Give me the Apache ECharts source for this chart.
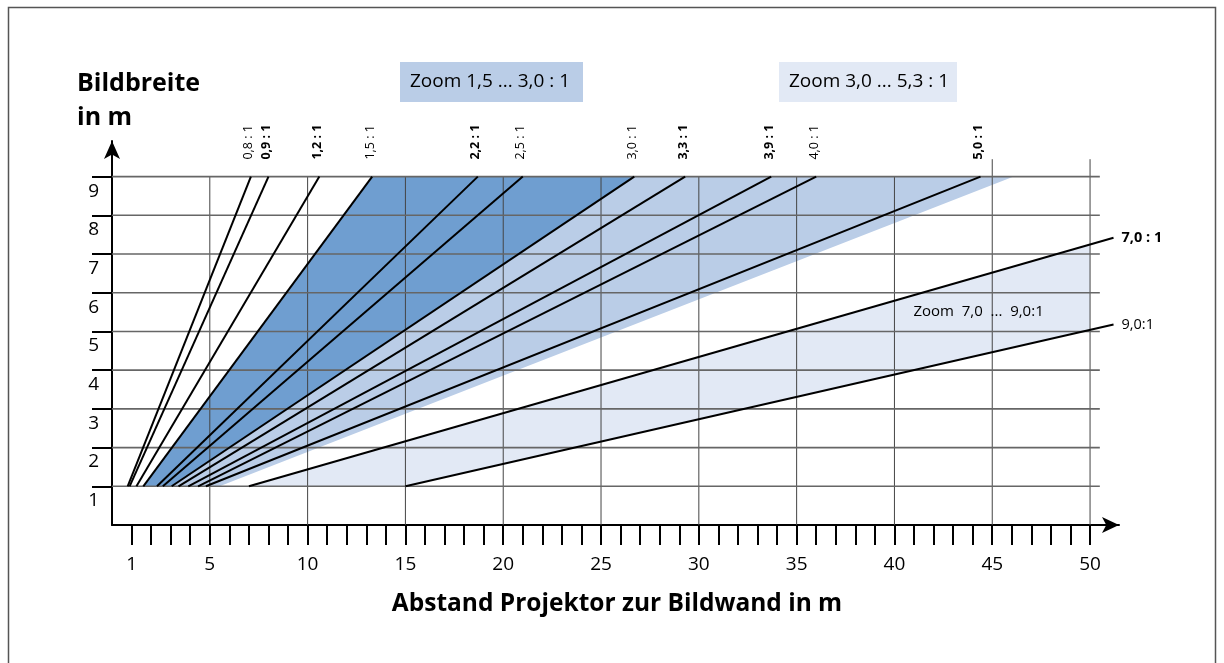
<!DOCTYPE html>
<html><head><meta charset="utf-8">
<script src="https://cdn.jsdelivr.net/npm/echarts@6/dist/echarts.min.js"></script>
<style>html,body{margin:0;padding:0;background:#fff}#c{width:1224px;height:663px}</style>
</head><body><div id="c"></div>
<script>
// ---- data ----
const ratioLabels = ['0,8 : 1','0,9 : 1','1,2 : 1','1,5 : 1','2,2 : 1','2,5 : 1','3,0 : 1','3,3 : 1','3,9 : 1','4,0 : 1','5,0 : 1'];
const ratioBold   = [false, true, true, false, true, false, false, true, true, false, true];
const startDist   = [0.8, 0.9, 1.25, 1.6, 2.3, 2.6, 3.05, 3.4, 3.9, 4.4, 4.8];      // distance (m) at 1 m width
const topDist     = [7.1, 8.0, 10.6, 13.3, 18.7, 21.0, 26.7, 29.3, 33.7, 36.0, 44.4]; // distance (m) at 9 m width
const startWidth  = 1;
const topWidth    = 9;
const tele7 = [[7, 1], [51.2, 7.42]];
const tele9 = [[15, 1], [51.2, 5.18]];
const zoneA = [[1.6, 1], [13.3, 9], [26.7, 9], [3.05, 1]];     // Zoom 1,5 ... 3,0 : 1
const zoneB = [[3.05, 1], [26.7, 9], [46.1, 9], [5.5, 1]];     // Zoom 3,0 ... 5,3 : 1
const zoneC = [[7, 1], [50, 7.26], [50, 5.05], [15, 1]];       // Zoom 7,0 ... 9,0 : 1
const xTickValues  = [1,2,3,4,5,6,7,8,9,10,11,12,13,14,15,16,17,18,19,20,21,22,23,24,25,26,27,28,29,30,31,32,33,34,35,36,37,38,39,40,41,42,43,44,45,46,47,48,49,50];
const xLabelValues = [1,5,10,15,20,25,30,35,40,45,50];
const yTickValues  = [1,2,3,4,5,6,7,8,9];

const FONT = '"Open Sans", "Noto Sans", sans-serif';
const C_DARK = '#6f9ed0', C_MID = '#bacde7', C_LIGHT = '#e2e9f5';

const chart = echarts.init(document.getElementById('c'));

function polySeries(points, color) {
  return {
    type: 'custom', coordinateSystem: 'cartesian2d', silent: true, clip: false, z: 1,
    data: [[points[0][0], points[0][1]]],
    renderItem: (p, api) => ({
      type: 'polygon',
      shape: { points: points.map(pt => api.coord(pt)) },
      style: { fill: color }
    })
  };
}

const vGrid = xLabelValues.filter(v => v >= 5).map(v => [v, 0, v, v >= 45 ? 9.45 : topWidth, 0]);
const hGrid = yTickValues.map(v => [0, v, 50.5, v, 1]);

const series = [
  polySeries(zoneA, C_DARK),
  polySeries(zoneB, C_MID),
  polySeries(zoneC, C_LIGHT),
  {
    type: 'custom', coordinateSystem: 'cartesian2d', silent: true, clip: false, z: 2,
    data: vGrid.concat(hGrid),
    renderItem: (p, api) => {
      const a = api.coord([api.value(0), api.value(1)]);
      const b = api.coord([api.value(2), api.value(3)]);
      const horiz = api.value(4) === 1;
      return {
        type: 'line',
        shape: { x1: a[0], y1: a[1], x2: b[0], y2: b[1] },
        style: { stroke: horiz ? '#666' : '#444', lineWidth: horiz ? 1.6 : 1 }
      };
    }
  }
];

ratioLabels.forEach((lab, i) => {
  series.push({
    type: 'line', silent: true, z: 5, symbol: 'none', clip: false,
    data: [[startDist[i], startWidth], [topDist[i], topWidth]],
    lineStyle: { color: '#000', width: 2 }
  });
});

series.push({
  type: 'line', silent: true, z: 5, symbol: 'none', clip: false, data: tele7,
  lineStyle: { color: '#000', width: 2 },
  endLabel: { show: true, formatter: '7,0 : 1', fontFamily: FONT, fontSize: 14.5, fontWeight: 'bold', color: '#000', distance: 8 }
});
series.push({
  type: 'line', silent: true, z: 5, symbol: 'none', clip: false, data: tele9,
  lineStyle: { color: '#000', width: 2 },
  endLabel: { show: true, formatter: '9,0:1', fontFamily: FONT, fontSize: 14.5, color: '#000', distance: 8 }
});

// rotated ratio labels above the line ends
series.push({
  type: 'custom', coordinateSystem: 'cartesian2d', silent: true, clip: false, z: 6,
  data: topDist.map((d, i) => [d, topWidth, i]),
  renderItem: (p, api) => {
    const i = api.value(2);
    const c = api.coord([api.value(0), api.value(1)]);
    return {
      type: 'text', x: c[0] - 2, y: c[1] - 17, rotation: Math.PI / 2,
      style: {
        text: ratioLabels[i], fill: '#000', align: 'left', verticalAlign: 'middle',
        font: (ratioBold[i] ? 'bold ' : '') + '12.5px ' + FONT
      }
    };
  }
});

// zone label inside the tele zone
series.push({
  type: 'custom', coordinateSystem: 'cartesian2d', silent: true, clip: false, z: 6,
  data: [[44.3, 5.52]],
  renderItem: (p, api) => {
    const c = api.coord([api.value(0), api.value(1)]);
    return { type: 'text', x: c[0], y: c[1],
      style: { text: 'Zoom  7,0  ...  9,0:1', fill: '#000', align: 'center', verticalAlign: 'middle', font: '15px ' + FONT } };
  }
});

const option = {
  animation: false,
  backgroundColor: '#fff',
  grid: { left: 112, right: 105, top: 141, bottom: 138, containLabel: false },
  xAxis: {
    type: 'value', min: 0, max: 51.48,
    splitLine: { show: false },
    axisLine: { show: true, onZero: false, symbol: ['none', 'arrow'], symbolSize: [12, 17], lineStyle: { color: '#000', width: 2 } },
    axisTick: { show: true, customValues: xTickValues, length: 20, lineStyle: { color: '#000', width: 2 } },
    axisLabel: { customValues: xLabelValues, margin: 30, fontSize: 19, color: '#000', fontFamily: FONT }
  },
  yAxis: {
    type: 'value', min: 0, max: 9.92,
    splitLine: { show: false },
    axisLine: { show: true, onZero: false, symbol: ['none', 'arrow'], symbolSize: [12, 18], lineStyle: { color: '#000', width: 2 } },
    axisTick: { show: true, customValues: yTickValues, length: 20, lineStyle: { color: '#000', width: 2 } },
    axisLabel: { customValues: yTickValues, margin: 13, fontSize: 19, color: '#000', fontFamily: FONT, verticalAlign: 'top', padding: [5, 0, 0, 0] }
  },
  series: series,
  graphic: [
    { type: 'rect', silent: true, shape: { x: 8.5, y: 7.5, width: 1207, height: 700 }, style: { fill: 'none', stroke: '#555', lineWidth: 1.5 } },
    { type: 'text', silent: true, x: 77, y: 84, style: { text: 'Bildbreite', font: 'bold 25px ' + FONT, fill: '#000', verticalAlign: 'middle' } },
    { type: 'text', silent: true, x: 77, y: 118, style: { text: 'in m', font: 'bold 25px ' + FONT, fill: '#000', verticalAlign: 'middle' } },
    { type: 'rect', silent: true, shape: { x: 400, y: 62, width: 183, height: 40 }, style: { fill: C_MID } },
    { type: 'text', silent: true, x: 410, y: 82, style: { text: 'Zoom 1,5 ... 3,0 : 1', font: '19px ' + FONT, fill: '#000', verticalAlign: 'middle' } },
    { type: 'rect', silent: true, shape: { x: 779, y: 62, width: 178, height: 40 }, style: { fill: C_LIGHT } },
    { type: 'text', silent: true, x: 789, y: 82, style: { text: 'Zoom 3,0 ... 5,3 : 1', font: '19px ' + FONT, fill: '#000', verticalAlign: 'middle' } },
    { type: 'text', silent: true, x: 617, y: 604, style: { text: 'Abstand Projektor zur Bildwand in m', font: 'bold 24.5px ' + FONT, fill: '#000', align: 'center', verticalAlign: 'middle' } }
  ]
};
chart.setOption(option);
</script>
</body></html>
